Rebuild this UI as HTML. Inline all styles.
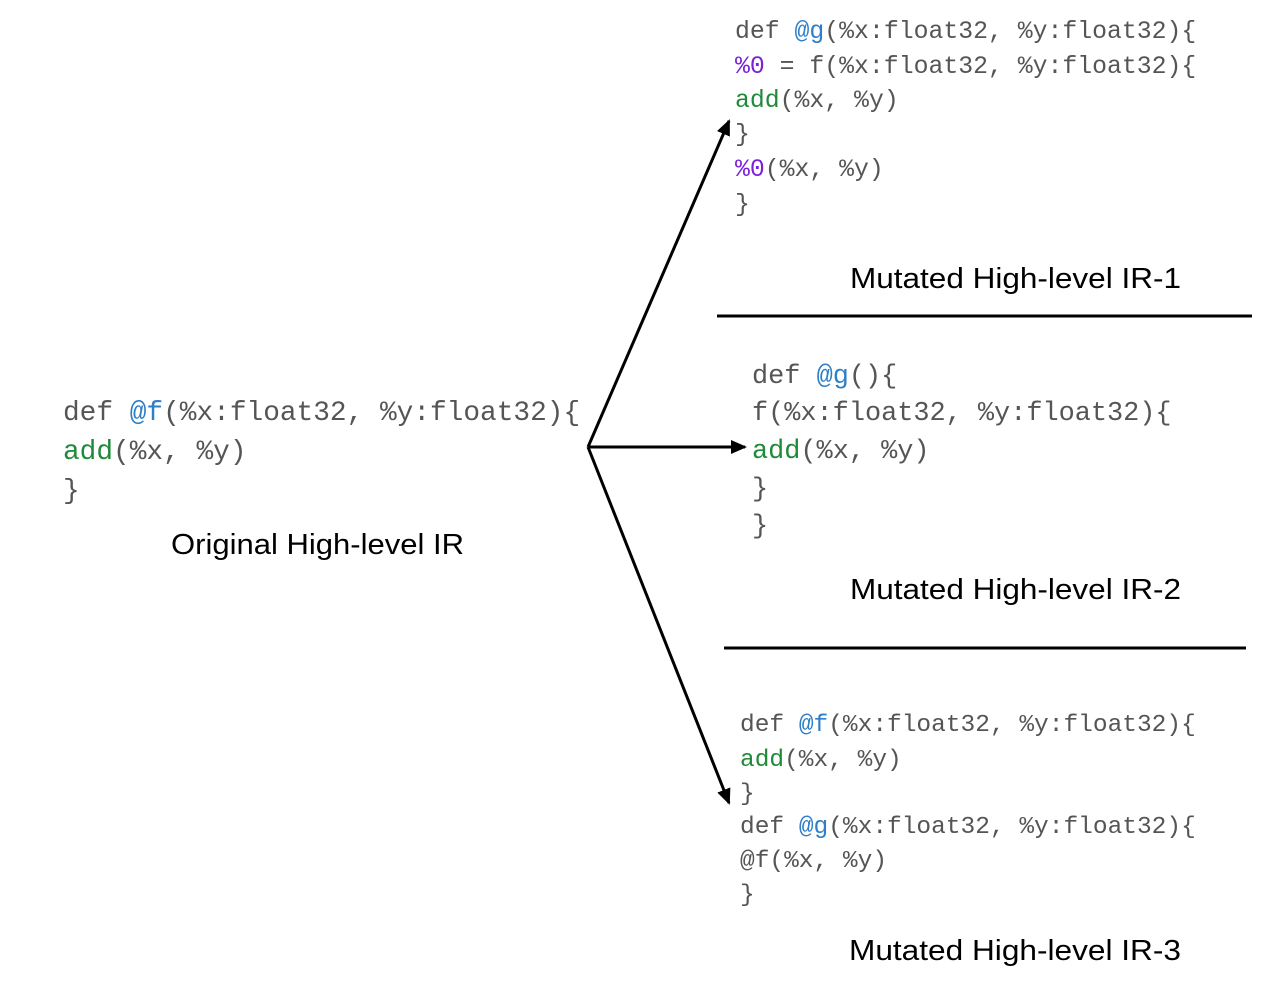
<!DOCTYPE html>
<html><head><meta charset="utf-8"><style>
html,body{margin:0;padding:0;background:#fff;}
svg{display:block}
.m{font-family:"Liberation Mono",monospace;fill:#555;}
.s{font-family:"Liberation Sans",sans-serif;fill:#000;font-size:29px;}
.b{fill:#2f7fc8}.g{fill:#1f8a3a}.p{fill:#7a22d6}
</style></head><body>
<svg width="1262" height="996" viewBox="0 0 1262 996" xmlns="http://www.w3.org/2000/svg" xml:space="preserve">
<defs><marker id="a" markerWidth="10" markerHeight="10" refX="8" refY="5" orient="auto" markerUnits="userSpaceOnUse"><path d="M0,0 L10,5 L0,10 z" fill="#000"/></marker>
<marker id="h" viewBox="0 0 16 14" markerWidth="16" markerHeight="14" refX="14" refY="7" orient="auto" markerUnits="userSpaceOnUse"><path d="M0,0 L16,7 L0,14 z" fill="#000"/></marker></defs>

<!-- left code -->
<g class="m" font-size="27.8">
<text x="63" y="420">def <tspan class="b">@f</tspan>(%x:float32, %y:float32){</text>
<text x="63" y="459">  <tspan class="g">add</tspan>(%x, %y)</text>
<text x="63" y="498">}</text>
</g>
<text class="s" x="171" y="554" textLength="293" lengthAdjust="spacingAndGlyphs">Original High-level IR</text>

<!-- arrows -->
<g stroke="#000" stroke-width="3" fill="none">
<line x1="588" y1="447" x2="729" y2="121" marker-end="url(#h)"/>
<line x1="588" y1="447" x2="745" y2="447" marker-end="url(#h)"/>
<line x1="588" y1="447" x2="729" y2="803" marker-end="url(#h)"/>
<line x1="717" y1="316" x2="1252" y2="316"/>
<line x1="724" y1="648" x2="1246" y2="648"/>
</g>

<!-- top code -->
<g class="m" font-size="24.8">
<text x="735" y="38">def <tspan class="b">@g</tspan>(%x:float32, %y:float32){</text>
<text x="735" y="73">  <tspan class="p">%0</tspan> = f(%x:float32, %y:float32){</text>
<text x="735" y="107">    <tspan class="g">add</tspan>(%x, %y)</text>
<text x="735" y="141">  }</text>
<text x="735" y="176">  <tspan class="p">%0</tspan>(%x, %y)</text>
<text x="735" y="211">}</text>
</g>
<text class="s" x="850" y="288" textLength="331" lengthAdjust="spacingAndGlyphs">Mutated High-level IR-1</text>

<!-- middle code -->
<g class="m" font-size="26.9">
<text x="752" y="383">def <tspan class="b">@g</tspan>(){</text>
<text x="752" y="420">  f(%x:float32, %y:float32){</text>
<text x="752" y="458">    <tspan class="g">add</tspan>(%x, %y)</text>
<text x="752" y="496">  }</text>
<text x="752" y="533">}</text>
</g>
<text class="s" x="850" y="599" textLength="331" lengthAdjust="spacingAndGlyphs">Mutated High-level IR-2</text>

<!-- bottom code -->
<g class="m" font-size="24.5">
<text x="740" y="731">def <tspan class="b">@f</tspan>(%x:float32, %y:float32){</text>
<text x="740" y="766">  <tspan class="g">add</tspan>(%x, %y)</text>
<text x="740" y="800">}</text>
<text x="740" y="833">def <tspan class="b">@g</tspan>(%x:float32, %y:float32){</text>
<text x="740" y="867">  @f(%x, %y)</text>
<text x="740" y="901">}</text>
</g>
<text class="s" x="849" y="960" textLength="332" lengthAdjust="spacingAndGlyphs">Mutated High-level IR-3</text>
</svg>
</body></html>
